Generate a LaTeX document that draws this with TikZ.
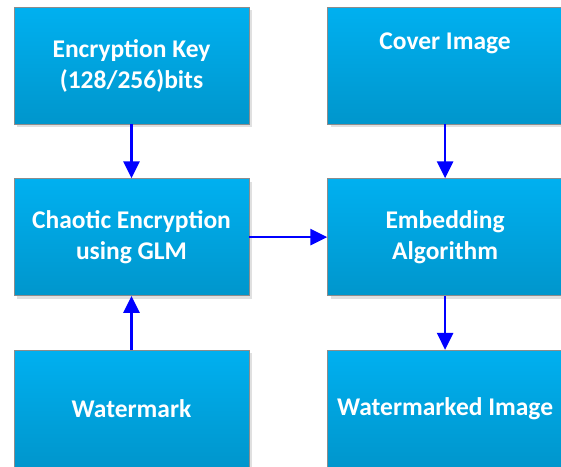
\documentclass[tikz,border=0pt]{standalone}
\usepackage{fontspec}
\setmainfont{Carlito}
\usetikzlibrary{arrows.meta, positioning, shadows}
\definecolor{boxtop}{RGB}{0,176,240}
\definecolor{boxbottom}{RGB}{0,150,204}
\definecolor{arrowblue}{RGB}{0,0,255}

\begin{document}
\begin{tikzpicture}[
    x=1pt, y=1pt,
    node distance=54pt and 78pt,
    block/.style={rectangle, draw=black!45, line width=0.6pt, top color=boxtop, bottom color=boxbottom, text=white, font=\bfseries\fontsize{25.5}{31}\selectfont, align=center, minimum width=235pt, minimum height=117pt, inner sep=0pt, drop shadow={shadow xshift=3pt, shadow yshift=-3pt, fill=black!12, opacity=1}},
    arrow/.style={-{Triangle[length=17pt, width=16pt]}, draw=arrowblue, line width=2.6pt}
]
\useasboundingbox (0,0) rectangle (561,-466);

\node[block] (key) at (131.5,-65.5) {Encryption Key\\(128/256)bits};
\node[block, right=of key] (cover) {Cover Image\\[18pt]\mbox{}};
\node[block, below=of key] (chaos) {Chaotic Encryption\\using GLM};
\node[block, right=of chaos] (embed) {Embedding\\Algorithm};
\node[block, below=of chaos] (mark) {Watermark};
\node[block, right=of mark] (marked) {Watermarked Image};

\draw[arrow] (key) -- (chaos);
\draw[arrow] (mark) -- (chaos);
\draw[arrow] (chaos) -- (embed);
\draw[arrow] (cover) -- (embed);
\draw[arrow] (embed) -- (marked);
\end{tikzpicture}
\end{document}
